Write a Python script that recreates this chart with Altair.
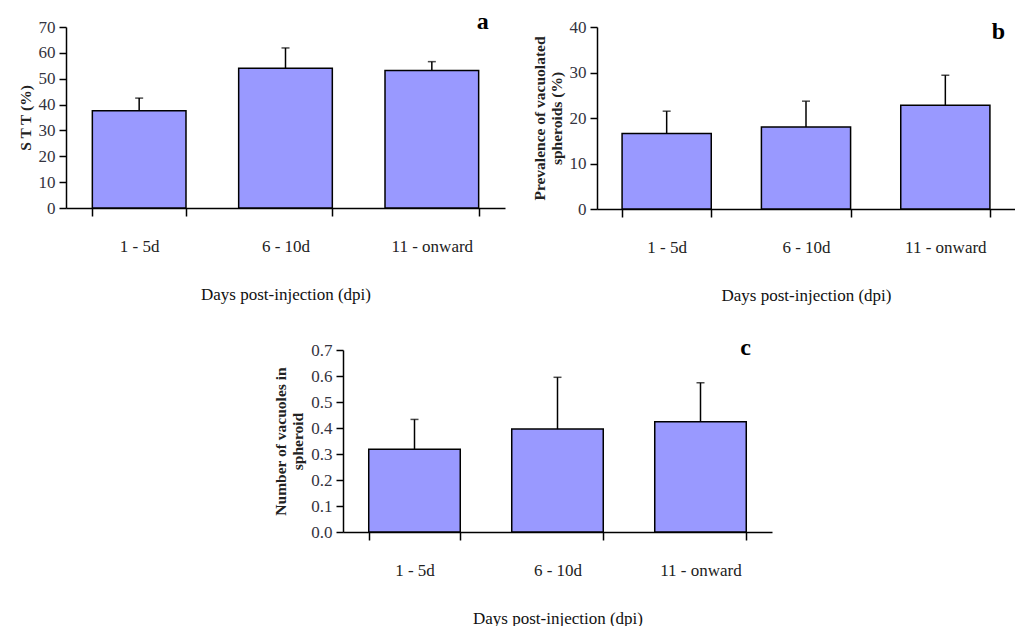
import altair as alt
import pandas as pd

categories = ["1 - 5d", "6 - 10d", "11 - onward"]

stt_values = [37.6, 54.0, 53.2]
stt_upper = [42.5, 61.9, 56.6]

prev_values = [16.6, 18.0, 22.8]
prev_upper = [21.5, 23.7, 29.4]

vac_values = [0.318, 0.396, 0.424]
vac_upper = [0.433, 0.595, 0.574]

panel_letters = ["a", "b", "c"]

FONT = "Liberation Serif"
BAR_FILL = "#9999FF"


def panel(values, upper, letter, ytitle, ymax, ystep, yfmt, width, height, ldx, ldy):
    df = pd.DataFrame({"cat": categories, "val": values, "up": upper})
    xaxis = alt.Axis(
        labelAngle=0,
        tickBand="extent",
        tickSize=8,
        labelPadding=22,
        titlePadding=32,
        labelFontSize=17,
        titleFontSize=17,
        labelColor="#222222",
        titleColor="#111111",
        labelFont=FONT,
        titleFont=FONT,
        titleFontWeight="normal",
        domainColor="black",
        tickColor="black",
        domainWidth=1.5,
        tickWidth=1.5,
    )
    xscale = alt.Scale(paddingInner=0.36, paddingOuter=0.18)

    def X():
        return alt.X("cat:N", sort=categories, title="Days post-injection (dpi)",
                     scale=xscale, axis=xaxis)

    yscale = alt.Scale(domain=[0, ymax], nice=False, zero=True)
    nticks = int(round(ymax / ystep))
    tick_vals = [round(i * ystep, 4) for i in range(nticks + 1)]
    yaxis = alt.Axis(
        values=tick_vals,
        format=yfmt,
        grid=False,
        labelOverlap=False,
        labelFlush=False,
        tickSize=7,
        labelPadding=4,
        titlePadding=5,
        labelFontSize=17,
        titleFontSize=15.5,
        titleFontWeight="bold",
        titleLineHeight=17,
        labelColor="#333340",
        titleColor="#222222",
        labelFont=FONT,
        titleFont=FONT,
        domainColor="black",
        tickColor="black",
        domainWidth=1.5,
        tickWidth=1.5,
    )

    def Y(field):
        return alt.Y(field, title=ytitle, scale=yscale, axis=yaxis)

    base = alt.Chart(df)
    bars = base.mark_bar(fill=BAR_FILL, stroke="black", strokeWidth=1.5).encode(
        x=X(), y=Y("val:Q"))
    rule = base.mark_rule(color="black", strokeWidth=1.5).encode(
        x=X(), y=Y("val:Q"), y2="up:Q"
    )
    cap = base.mark_tick(color="black", size=8, thickness=1.5).encode(
        x=X(), y=Y("up:Q")
    )
    ldf = pd.DataFrame({"cat": [categories[-1]], "y": [ymax], "label": [letter]})
    lab = alt.Chart(ldf).mark_text(
        font=FONT, fontSize=24, fontWeight="bold", color="black",
        align="center", baseline="alphabetic", dx=ldx, dy=ldy,
    ).encode(x=X(), y=Y("y:Q"), text="label:N")
    return alt.layer(bars, rule, cap, lab).properties(width=width, height=height)


pa = panel(stt_values, stt_upper, panel_letters[0], "S T T (%)", 70, 10, "d", 439, 181, 51, 2)
pb = panel(prev_values, prev_upper, panel_letters[1], ["Prevalence of vacuolated", "spheroids (%)"],
           40, 10, "d", 418, 182, 53, 12)
pc = panel(vac_values, vac_upper, panel_letters[2], ["Number of vacuoles in", "spheroid"],
           0.7, 0.1, ".1f", 429, 182, 45, 5)

spacer = alt.Chart(pd.DataFrame({"s": [0]})).mark_point(opacity=0).encode(
    x=alt.X("s:Q", axis=None), y=alt.Y("s:Q", axis=None)
).properties(width=200, height=10)

row1 = alt.hconcat(pa, pb, spacing=92, bounds="flush")
row2 = alt.hconcat(spacer, pc, spacing=77, bounds="flush")

chart = alt.vconcat(row1, row2, spacing=33).properties(
    padding={"left": 18, "top": 10, "right": 0, "bottom": 0}
).configure_view(stroke=None)

chart.save("out.html", embed_options={"renderer": "svg", "actions": False})
